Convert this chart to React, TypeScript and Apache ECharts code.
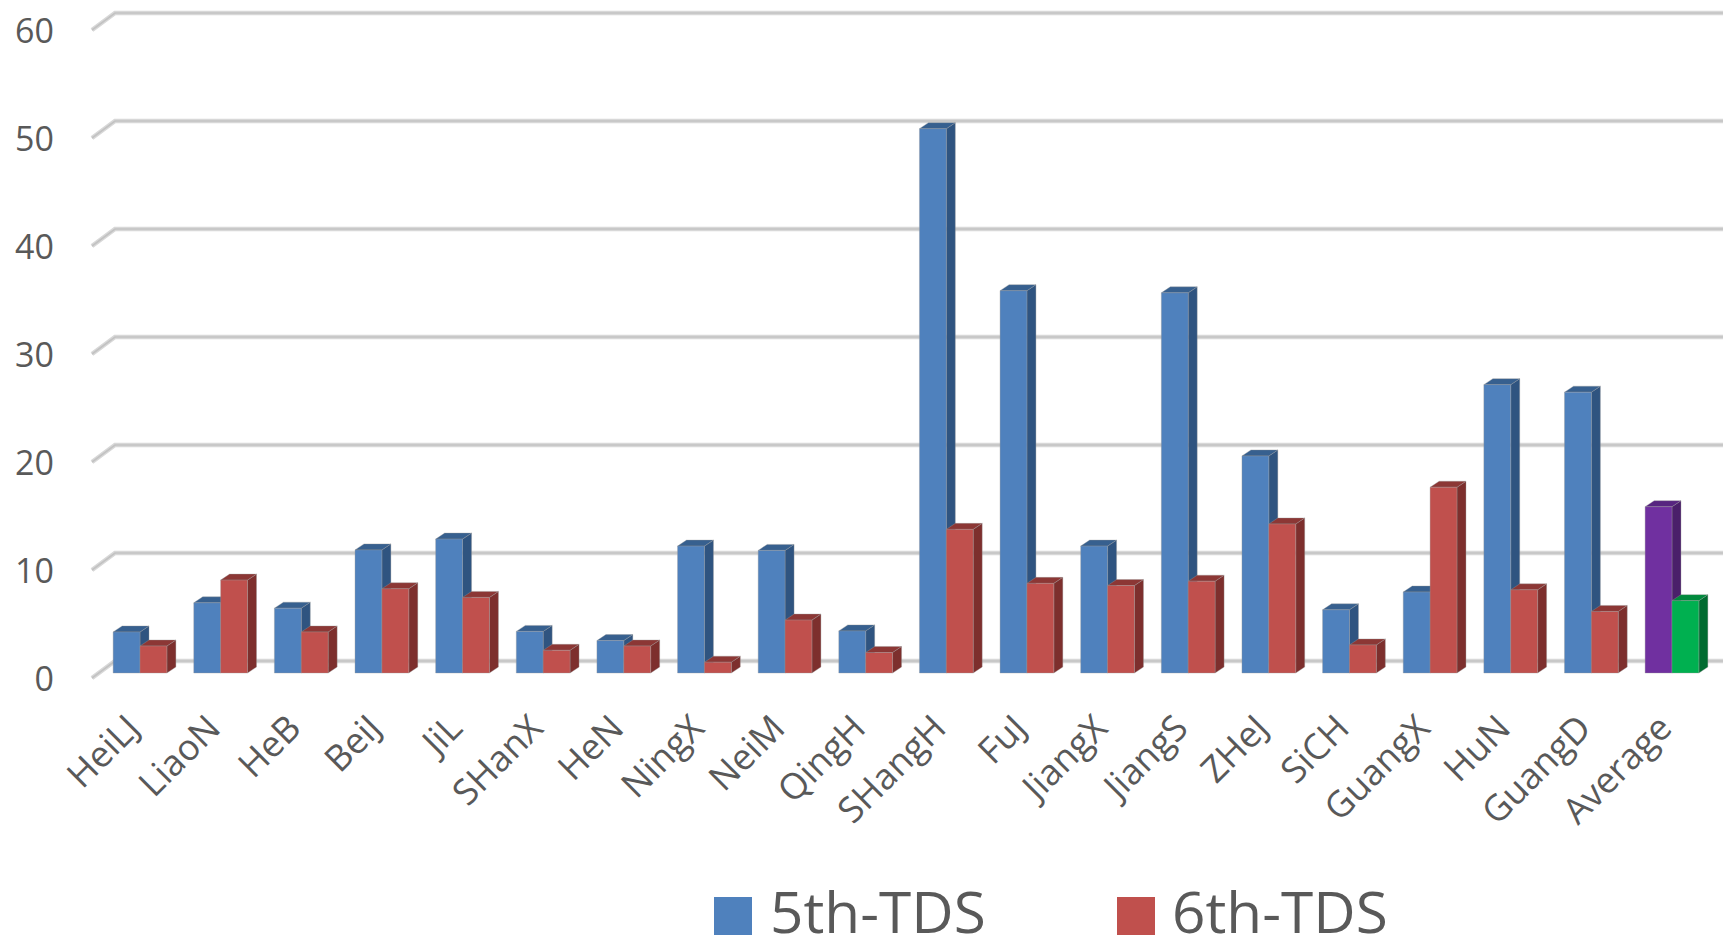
import React, { useEffect, useRef } from "react";
import * as echarts from "echarts";

const categories = ["HeiLJ", "LiaoN", "HeB", "BeiJ", "JiL", "SHanX", "HeN", "NingX", "NeiM", "QingH", "SHangH", "FuJ", "JiangX", "JiangS", "ZHeJ", "SiCH", "GuangX", "HuN", "GuangD", "Average"];
const tds5 = [3.8, 6.5, 6.0, 11.4, 12.4, 3.85, 3.0, 11.75, 11.35, 3.9, 50.4, 35.4, 11.75, 35.2, 20.1, 5.85, 7.5, 26.7, 26.0, 15.4];
const tds6 = [2.5, 8.6, 3.8, 7.8, 7.0, 2.1, 2.5, 1.0, 4.9, 1.9, 13.3, 8.3, 8.1, 8.5, 13.8, 2.6, 17.2, 7.7, 5.7, 6.7];
const gridTicks = [0, 10, 20, 30, 40, 50, 60];

const blue = { front: "#4f81bd", side: "#2f5480", top: "#37608f" };
const red = { front: "#c0504d", side: "#7d2f2d", top: "#8c3735" };
const purple = { front: "#7030a0", side: "#4a1f6a", top: "#572580" };
const green = { front: "#00b050", side: "#006b30", top: "#008a3d" };
const labelColor = "#595959";
const fontFamily = "Open Sans";
const DEPTH_X = 9;
const DEPTH_Y = -6;

function barSeries(name: string, values: number[], slot: number, base: typeof blue, avg: typeof blue) {
  return {
    type: "custom",
    name,
    xAxisIndex: 0,
    yAxisIndex: 0,
    z: 5,
    silent: true,
    data: values.map((v, i) => [i, v]),
    renderItem: (params: any, api: any) => {
      const i = api.value(0);
      const c = categories[i] === "Average" ? avg : base;
      const band = api.size([1, 0])[0];
      const w = band / 3;
      const top = api.coord([i, api.value(1)]);
      const bottom = api.coord([i, 0]);
      const x0 = top[0] + slot * w;
      const x1 = x0 + w;
      const yT = top[1];
      const yB = bottom[1];
      const edge = { stroke: "rgba(150,150,150,0.45)", lineWidth: 0.8 };
      return {
        type: "group",
        children: [
          { type: "polygon", shape: { points: [[x1, yT], [x1 + DEPTH_X, yT + DEPTH_Y], [x1 + DEPTH_X, yB + DEPTH_Y], [x1, yB]] }, style: { fill: c.side, ...edge } },
          { type: "polygon", shape: { points: [[x0, yT], [x0 + DEPTH_X, yT + DEPTH_Y], [x1 + DEPTH_X, yT + DEPTH_Y], [x1, yT]] }, style: { fill: c.top, ...edge } },
          { type: "rect", shape: { x: x0, y: yT, width: w, height: yB - yT }, style: { fill: c.front, ...edge } },
        ],
      };
    },
  };
}

export default function App() {
  const ref = useRef<HTMLDivElement>(null);
  useEffect(() => {
    document.body.style.margin = "0";
    const chart = echarts.init(ref.current!, undefined, { renderer: "svg" });
    chart.setOption({
      animation: false,
      backgroundColor: "#ffffff",
      grid: [
        { left: 99.7, top: 25, width: 1612.6, height: 648 },
        { left: 92, top: 30, right: 0, height: 648 },
      ],
      xAxis: [
        {
          type: "category",
          gridIndex: 0,
          data: categories,
          axisLine: { show: false },
          axisTick: { show: false },
          axisLabel: {
            interval: 0,
            rotate: 45,
            margin: 40,
            padding: [0, 11, 0, 0],
            fontSize: 36,
            fontFamily,
            color: labelColor,
          },
        },
        { type: "value", gridIndex: 1, min: 0, max: 1, show: false },
      ],
      yAxis: [
        { type: "value", gridIndex: 0, min: 0, max: 60, interval: 10, show: false },
        {
          type: "value",
          gridIndex: 1,
          min: 0,
          max: 60,
          interval: 10,
          axisLine: { show: false },
          axisTick: { show: false },
          splitLine: { show: false },
          axisLabel: { margin: 38, fontSize: 34, fontFamily, color: labelColor },
        },
      ],
      series: [
        {
          type: "custom",
          name: "wall",
          xAxisIndex: 1,
          yAxisIndex: 1,
          z: 1,
          silent: true,
          data: gridTicks.map((v) => [0, v]),
          renderItem: (params: any, api: any) => {
            const v = api.value(1);
            const a = api.coord([0, v]);
            const b = api.coord([1, v]);
            const pts = [a, [a[0] + 23, a[1] - 17], [b[0], b[1] - 17]];
            return {
              type: "group",
              children: [
                { type: "polyline", shape: { points: pts }, style: { fill: "none", stroke: "#d8d8d8", lineWidth: 4.5 } },
                { type: "polyline", shape: { points: pts }, style: { fill: "none", stroke: "#c2c2c2", lineWidth: 1.6 } },
              ],
            };
          },
        },
        barSeries("5th-TDS", tds5, -1, blue, purple),
        barSeries("6th-TDS", tds6, 0, red, green),
      ],
      graphic: [
        { type: "rect", shape: { x: 714, y: 897, width: 38, height: 38 }, style: { fill: blue.front } },
        { type: "text", x: 770, y: 911, scaleX: 1.045, style: { text: "5th-TDS", fontSize: 56, fontFamily, fill: labelColor, verticalAlign: "middle", align: "left" } },
        { type: "rect", shape: { x: 1117, y: 897, width: 38, height: 38 }, style: { fill: red.front } },
        { type: "text", x: 1172, y: 911, scaleX: 1.045, style: { text: "6th-TDS", fontSize: 56, fontFamily, fill: labelColor, verticalAlign: "middle", align: "left" } },
      ],
    });
    return () => chart.dispose();
  }, []);
  return <div ref={ref} style={{ position: "absolute", left: 0, top: 0, width: 1723, height: 939 }} />;
}
